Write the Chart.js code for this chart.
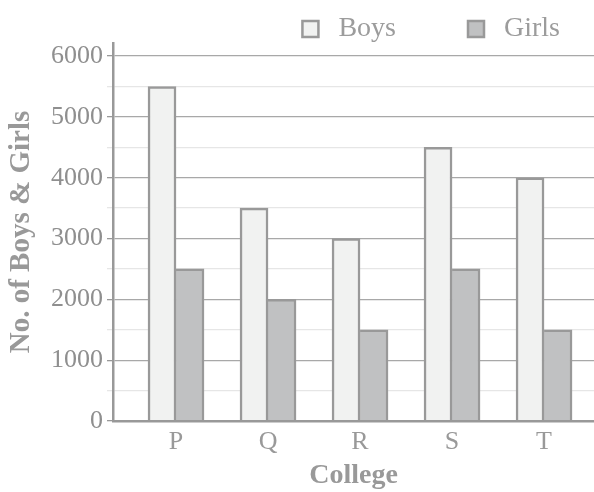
<!DOCTYPE html>
<html>
<head>
<meta charset="utf-8">
<script src="https://cdn.jsdelivr.net/npm/chart.js@4.4.1/dist/chart.umd.min.js"></script>
<style>
  html, body { margin: 0; padding: 0; background: #fff; }
  #wrap { width: 594px; height: 492px; position: relative; }
</style>
</head>
<body>
<div id="wrap"><canvas id="chart"></canvas></div>
<script>
// data
const colleges = ['P', 'Q', 'R', 'S', 'T'];
const boys = [5500, 3500, 3000, 4500, 4000];
const girls = [2500, 2000, 1500, 2500, 1500];
const yTickValues = [0, 500, 1000, 1500, 2000, 2500, 3000, 3500, 4000, 4500, 5000, 5500, 6000];
const yLabels = [0, 1000, 2000, 3000, 4000, 5000, 6000];

const serif = "'Liberation Serif', 'Times New Roman', serif";
const edge = '#999999';
const isMajor = v => yLabels.includes(v);
const toPoints = arr => arr.map((v, i) => ({ x: i, y: v }));

new Chart(document.getElementById('chart'), {
  type: 'bar',
  data: {
    datasets: [
      { label: 'Boys', data: toPoints(boys), backgroundColor: '#f1f2f1', borderColor: edge,
        borderWidth: { top: 2.5, left: 2.5, right: 2.5, bottom: 0 }, barThickness: 28 },
      { label: 'Girls', data: toPoints(girls), backgroundColor: '#c0c1c2', borderColor: edge,
        borderWidth: { top: 2.5, left: 0, right: 2.5, bottom: 0 }, barThickness: 28 }
    ]
  },
  options: {
    responsive: true, maintainAspectRatio: false, animation: false,
    layout: { padding: { top: -51, right: -32 } },
    plugins: {
      tooltip: { enabled: false },
      legend: {
        position: 'top', align: 'end', maxHeight: 94,
        labels: {
          usePointStyle: true, pointStyle: 'rect', boxWidth: 28, boxHeight: 16, padding: 66,
          color: '#9c9c9c', font: { family: serif, size: 28 },
          generateLabels: chart => Chart.defaults.plugins.legend.labels.generateLabels(chart)
            .map(l => ({ ...l, lineWidth: 2.5, pointStyle: 'rect' }))
        }
      }
    },
    scales: {
      x: {
        type: 'linear', min: -0.685, max: 4.543, offset: false, bounds: 'data',
        afterFit: s => { s.height = 71; },
        afterBuildTicks: s => { s.ticks = colleges.map((c, i) => ({ value: i })); },
        grid: { display: false, drawTicks: false, offset: false },
        border: { color: edge, width: 2.5, z: 1 },
        ticks: { padding: 6, color: '#999', autoSkip: false,
          font: { family: serif, size: 26 }, callback: v => colleges[v] ?? '' },
        title: { display: true, text: 'College', color: '#999', padding: { top: 0, bottom: -1 },
          font: { family: serif, size: 28, weight: 'bold' } }
      },
      y: {
        min: 0, max: 6215, bounds: 'data',
        afterFit: s => { s.width = 113; },
        afterBuildTicks: s => { s.ticks = yTickValues.map(v => ({ value: v })); },
        grid: {
          color: c => isMajor(c.tick.value) ? '#a8a8a8' : '#e6e6e6',
          tickColor: c => isMajor(c.tick.value) ? '#999' : '#e6e6e6',
          tickLength: 6, lineWidth: 1.3
        },
        border: { color: edge, width: 2.5, z: 1 },
        ticks: { autoSkip: false, padding: 4, color: '#8f8f8f',
          font: { family: serif, size: 26 }, callback: v => isMajor(v) ? v : '' },
        title: { display: true, text: 'No. of Boys & Girls', color: '#999', padding: { top: 4 },
          font: { family: serif, size: 29, weight: 'bold' } }
      }
    }
  }
});
</script>
</body>
</html>
